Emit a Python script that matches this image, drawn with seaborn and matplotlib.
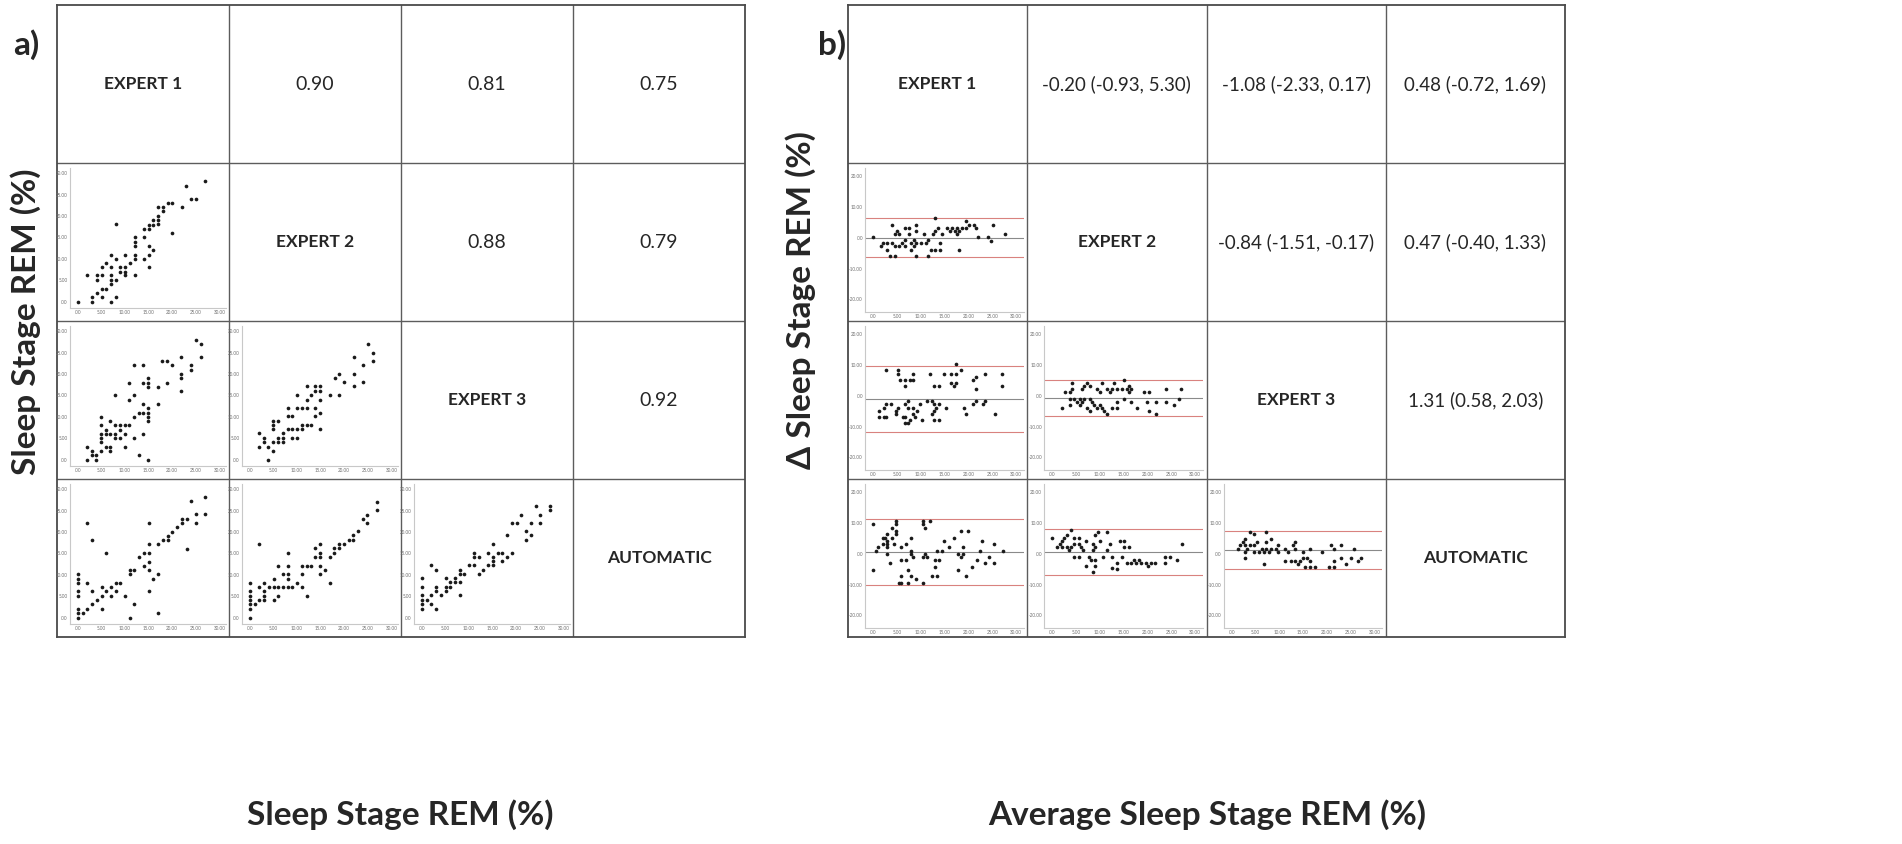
import matplotlib
matplotlib.use("Agg")
import matplotlib.pyplot as plt
import seaborn as sns

sns.set_style("white")
plt.rcParams['font.family'] = ['Lato', 'DejaVu Sans']

raters = ['EXPERT 1', 'EXPERT 2', 'EXPERT 3', 'AUTOMATIC']

# correlation coefficients (upper triangle, panel a)
corr_vals = {(0, 1): '0.90', (0, 2): '0.81', (0, 3): '0.75',
             (1, 2): '0.88', (1, 3): '0.79',
             (2, 3): '0.92'}

# bias (limits) text (upper triangle, panel b)
bias_vals = {(0, 1): '-0.20 (-0.93, 5.30)', (0, 2): '-1.08 (-2.33, 0.17)', (0, 3): '0.48 (-0.72, 1.69)',
             (1, 2): '-0.84 (-1.51, -0.17)', (1, 3): '0.47 (-0.40, 1.33)',
             (2, 3): '1.31 (0.58, 2.03)'}

tick_vals = [0, 5, 10, 15, 20, 25, 30]
tick_labels = ['.00', '5.00', '10.00', '15.00', '20.00', '25.00', '30.00']
ba_tick_vals = [-20, -10, 0, 10, 20]
ba_tick_labels = ['-20.00', '-10.00', '.00', '10.00', '20.00']

# ---- scatter panels (row, col) ----
sc10_x = [0, 2, 3, 3, 4, 4, 4, 5, 5, 5, 5, 6, 6, 7, 7, 7, 7, 7, 7, 8, 8, 8, 8, 9, 9, 10, 10, 10, 10, 11,
          12, 12, 12, 12, 12, 12, 14, 14, 14, 15, 15, 15, 15, 15, 16, 16, 16, 17, 17, 17, 17, 18, 18,
          19, 20, 20, 22, 23, 24, 25, 27]
sc10_y = [0, 6.1, 1.1, 0, 6.1, 5.0, 2.1, 8.1, 6.1, 3.0, 1.0, 9.0, 3.0, 11.0, 8.1, 6.1, 5.0, 4.1, 0, 18.1, 10.0,
          5.0, 1.0, 8.1, 7.0, 11.0, 8.1, 7.0, 6.1, 9.0, 15.0, 14.0, 13.0, 11.0, 10.0, 6.1, 17.0, 15.0, 10.0,
          18.0, 17.0, 13.0, 11.0, 8.0, 19.0, 18.0, 12.0, 22.1, 20.0, 19.0, 18.1, 22.1, 21.1, 23.1, 23.1, 16.1,
          22.1, 27.1, 24.1, 24.1, 28.1]

sc20_x = [1.9, 1.9, 2.9, 2.9, 3.9, 3.9, 4.9, 4.9, 4.9, 4.9, 4.9, 4.9, 5.9, 5.9, 5.9, 6.9, 6.9, 6.9, 6.9,
          7.9, 7.9, 7.9, 7.9, 8.9, 8.9, 8.9, 9.9, 9.9, 9.9, 10.9, 10.9, 10.9, 11.9, 11.9, 11.9, 11.9, 12.9,
          12.9, 13.9, 13.9, 13.9, 13.9, 13.9, 14.9, 14.9, 14.9, 14.9, 14.9, 14.9, 14.9, 14.9, 16.9, 16.9,
          17.9, 18.9, 18.9, 19.9, 21.9, 21.9, 21.9, 21.9, 23.9, 23.9, 25.0, 26.0, 26.0]
sc20_y = [3.0, 0, 2.0, 1.0, 1.0, 0, 10.0, 8.0, 6.0, 5.0, 4.0, 2.0, 7.0, 6.0, 3.0, 9.0, 6.0, 3.0, 2.0,
          15.1, 8.0, 6.0, 5.0, 8.0, 7.0, 5.0, 8.0, 6.0, 3.0, 18.0, 14.0, 8.0, 22.1, 15.1, 10.0, 5.0, 11.0,
          1.0, 22.1, 18.0, 13.1, 11.0, 6.0, 19.1, 18.0, 17.0, 12.1, 11.0, 10.0, 9.0, 0, 17.0, 13.1,
          23.0, 23.0, 18.0, 22.1, 24.0, 20.1, 19.1, 16.0, 22.1, 21.0, 28.0, 27.0, 24.0]

sc21_x = [1.9, 1.9, 2.9, 2.9, 3.9, 3.9, 4.9, 4.9, 4.9, 4.9, 4.9, 6.0, 6.0, 6.0, 7.0, 7.0, 7.0, 8.0, 8.0,
          8.0, 8.9, 8.9, 8.9, 9.9, 9.9, 9.9, 9.9, 11.0, 11.0, 11.0, 12.0, 12.0, 12.0, 12.0, 13.0, 13.0,
          13.9, 13.9, 13.9, 13.9, 14.9, 14.9, 14.9, 14.9, 14.9, 17.0, 18.0, 18.9, 18.9, 20.0, 22.0, 22.0,
          22.0, 24.0, 24.0, 25.0, 26.0, 26.0]
sc21_y = [6.1, 3.0, 5.1, 4.0, 3.0, 0, 9.0, 8.1, 7.1, 4.0, 2.1, 9.0, 5.1, 4.0, 6.1, 5.1, 4.0, 12.1, 10.1,
          7.1, 10.1, 7.1, 5.1, 15.1, 12.1, 7.1, 5.1, 12.1, 8.1, 7.1, 17.1, 14.0, 12.1, 8.1, 15.1, 8.1,
          17.1, 16.0, 12.1, 10.1, 17.1, 16.0, 14.0, 11.0, 7.1, 15.1, 19.0, 20.0, 15.1, 18.1, 24.0, 20.0,
          17.1, 22.1, 18.1, 27.0, 25.0, 23.0]

sc30_x = [0, 0, 0, 0, 0, 0, 0, 0, 1.0, 2.0, 2.0, 2.0, 3.0, 3.0, 3.0, 4.0, 5.0, 5.0, 5.0, 6.0, 6.0, 7.0,
          7.0, 8.0, 8.0, 9.0, 10.0, 11.0, 11.0, 11.0, 11.9, 11.9, 13.0, 14.0, 14.0, 15.0, 15.0, 15.0, 15.0,
          15.0, 15.0, 16.0, 17.0, 17.0, 17.0, 18.0, 19.0, 19.0, 20.0, 21.0, 22.0, 22.0, 23.1, 23.1, 24.0,
          25.1, 25.1, 27.0, 27.0]
sc30_y = [10.1, 9.1, 8.1, 6.2, 5.1, 2.1, 1.1, 0, 1.1, 22.1, 8.1, 2.1, 18.1, 6.2, 3.1, 4.1, 7.1, 5.1, 2.1,
          15.1, 6.2, 7.1, 5.1, 8.1, 6.2, 8.1, 5.1, 11.1, 10.1, 0, 11.1, 3.1, 14.1, 15.1, 12.1, 22.1, 17.1,
          15.1, 13.1, 11.1, 6.2, 9.1, 17.1, 10.1, 1.1, 18.1, 19.1, 18.1, 20.1, 21.1, 23.1, 22.1, 23.1, 16.1,
          27.2, 24.2, 22.1, 28.2, 24.2]

sc31_x = [0, 0, 0, 0, 0, 0, 0, 1.0, 2.0, 2.0, 2.0, 2.9, 2.9, 2.9, 2.9, 4.0, 5.0, 5.0, 5.0, 6.0, 6.0, 6.0,
          7.0, 7.0, 8.0, 8.0, 8.0, 8.0, 8.0, 9.0, 10.0, 11.0, 11.0, 11.0, 12.0, 12.0, 13.0, 13.9, 13.9,
          14.9, 14.9, 14.9, 14.9, 14.9, 15.9, 17.0, 17.0, 17.9, 17.9, 18.9, 18.9, 19.9, 21.0, 21.9, 21.9,
          22.9, 23.9, 24.9, 24.9, 26.9, 26.9]
sc31_y = [8.1, 6.1, 5.1, 4.1, 3.1, 2.0, 0, 3.1, 17.1, 7.1, 4.1, 8.1, 6.1, 5.1, 4.1, 7.1, 9.1, 7.1, 4.1,
          12.1, 7.1, 5.1, 10.1, 7.1, 15.2, 12.1, 10.1, 9.1, 7.1, 7.1, 8.1, 12.1, 10.1, 7.1, 12.1, 5.1,
          12.1, 16.2, 14.1, 17.1, 15.2, 14.1, 12.1, 10.1, 11.1, 14.1, 8.1, 16.2, 15.2, 17.1, 16.2, 17.1,
          18.2, 19.2, 18.2, 20.2, 23.1, 24.1, 22.2, 27.1, 25.2]

sc32_x = [0, 0, 0, 0, 0, 0, 1.0, 2.0, 2.0, 2.0, 3.0, 3.0, 3.0, 3.0, 4.0, 5.0, 5.0, 5.0, 6.0, 6.0, 7.0,
          7.0, 8.0, 8.0, 8.0, 8.0, 9.0, 10.0, 11.0, 11.0, 11.0, 12.0, 12.0, 13.0, 14.0, 14.0, 15.1, 15.1,
          15.1, 15.1, 16.1, 17.0, 17.0, 18.1, 18.1, 19.1, 19.1, 20.1, 21.1, 22.1, 22.1, 23.1, 23.1, 24.1,
          25.1, 25.1, 27.1, 27.1]
sc32_y = [9.2, 7.1, 5.2, 4.1, 3.2, 2.1, 4.1, 12.2, 5.2, 3.2, 11.2, 7.1, 6.1, 2.1, 5.2, 9.2, 7.1, 6.1,
          8.2, 7.1, 9.2, 8.2, 11.2, 10.2, 8.2, 5.2, 10.2, 12.2, 15.2, 14.2, 12.2, 14.2, 10.2, 11.2, 15.2,
          12.2, 17.2, 14.2, 13.2, 12.2, 15.2, 15.2, 13.2, 19.2, 14.2, 22.1, 15.2, 22.1, 24.1, 20.2, 18.2,
          22.1, 19.2, 26.1, 24.1, 22.1, 26.1, 25.1]

# ---- Bland-Altman panels (row, col): average on x, difference on y ----
ba10_x = [0, 1.55, 2.1, 3.0, 3.0, 3.6, 4.0, 4.0, 4.5, 4.5, 4.5, 5.1, 5.5, 5.5, 6.0, 6.6, 6.6, 6.6, 7.6,
          7.6, 8.0, 8.0, 8.6, 8.6, 9.1, 9.1, 9.1, 9.1, 10.1, 10.6, 11.1, 11.6, 11.6, 12.1, 12.6, 13.0,
          13.0, 13.0, 13.6, 14.1, 14.1, 14.5, 15.6, 16.1, 16.6, 17.1, 17.6, 17.6, 18.1, 18.1, 18.6, 19.6,
          19.6, 20.1, 21.1, 21.6, 22.1, 24.1, 24.7, 25.1, 27.6]
ba10_y = [0.2, -2.8, -1.8, -1.8, -3.9, -5.9, 4.3, -1.8, 1.2, -2.8, -5.9, 2.2, 1.2, -2.8, -1.8, 3.3, -0.8,
          -2.8, 3.3, 1.2, -1.8, -3.9, -0.8, -2.8, 4.3, 2.2, -1.8, -5.9, -1.8, 1.2, -1.8, -0.8, -5.9, -3.9,
          1.2, 6.4, 2.2, -3.9, 3.3, -1.8, -3.9, 1.2, 3.3, 2.2, 3.3, 2.2, 3.3, 1.2, 2.2, -3.9, 3.3, 5.3,
          3.3, 4.3, 4.3, 3.3, 0.2, 0.2, -0.9, 4.3, 1.2]

ba20_x = [1.2, 1.2, 2.2, 2.2, 2.7, 2.7, 2.7, 3.7, 4.7, 4.7, 5.2, 5.2, 5.2, 5.7, 6.2, 6.7, 6.7, 6.7, 6.7,
          6.7, 7.3, 7.3, 7.3, 7.8, 7.8, 8.3, 8.3, 8.3, 8.3, 8.8, 9.2, 9.8, 10.3, 11.3, 11.9, 12.3, 12.3,
          12.8, 12.8, 12.8, 12.8, 13.3, 13.8, 13.8, 13.8, 14.9, 15.3, 16.4, 16.4, 16.9, 17.4, 17.4, 17.4,
          18.4, 19.0, 19.5, 21.0, 21.0, 21.5, 21.5, 21.5, 23.0, 23.5, 23.5, 25.6, 27.1, 27.1]
ba20_y = [-4.8, -6.8, -3.8, -6.8, 8.2, -2.8, -6.8, -2.8, -4.8, -5.8, 8.2, 7.2, -3.8, 5.2, -6.8, 5.2, 3.2,
          -2.8, -6.8, -8.8, -1.8, -3.8, -8.8, 5.2, -7.8, 7.2, 5.2, -3.8, -5.8, -6.8, -4.8, -2.8, -7.8, -1.8,
          7.2, -1.8, -5.8, 3.2, -2.8, -4.8, -7.8, -3.8, 3.2, -2.8, -7.8, 7.2, -3.8, 7.2, 4.2, 3.2, 10.2,
          7.2, 4.2, 8.2, -3.8, -5.8, -2.8, 5.2, 6.2, 2.2, -1.8, -2.8, 7.2, -1.8, -5.8, 7.2, 3.2]

ba21_x = [2.0, 2.6, 3.6, 3.6, 3.6, 4.1, 4.1, 4.6, 5.1, 5.7, 5.7, 6.2, 6.2, 6.7, 6.7, 7.3, 7.3, 7.8, 7.8,
          7.8, 8.3, 8.8, 9.4, 9.4, 9.9, 9.9, 10.4, 10.4, 10.9, 11.5, 11.5, 12.0, 12.5, 12.5, 13.0, 13.5,
          13.5, 13.5, 14.6, 15.1, 15.1, 15.6, 16.1, 16.1, 16.6, 16.6, 17.7, 19.2, 19.8, 20.3, 20.3, 21.8,
          21.8, 23.9, 23.9, 25.5, 26.5, 27.1]
ba21_y = [-3.9, 1.1, 1.1, -0.9, -2.9, 4.1, 2.1, -0.9, -1.9, -0.9, -2.9, 2.1, -1.9, 3.1, -0.9, 4.1, -3.9,
          3.1, -0.9, -5.0, -1.9, -2.9, 2.1, -3.9, 1.1, -2.9, 4.1, -3.9, -5.0, -6.0, 2.1, 1.1, 2.1, -3.9,
          4.1, 2.1, -1.9, -3.9, 2.1, 5.1, -0.9, 2.1, 3.1, 1.1, 2.1, -1.9, -3.9, 1.1, -1.9, 1.1, -5.0, -1.9,
          -6.0, 2.1, -1.9, -2.9, -0.9, 2.1]

ba30_x = [0, 0, 0.5, 1.0, 2.0, 2.0, 2.5, 3.0, 3.0, 3.0, 3.0, 3.0, 3.5, 4.0, 4.0, 4.4, 4.9, 4.9, 4.9, 4.9,
          5.4, 5.9, 5.9, 5.9, 5.9, 6.9, 6.9, 7.4, 7.4, 7.9, 7.9, 7.9, 7.9, 8.4, 8.9, 10.4, 10.4, 10.4, 10.4,
          10.9, 10.9, 11.4, 11.9, 12.4, 12.9, 12.9, 13.4, 13.4, 13.9, 14.4, 14.9, 15.9, 16.9, 17.9, 17.9,
          18.4, 18.4, 18.9, 18.9, 19.4, 19.9, 20.8, 21.9, 22.4, 22.9, 23.4, 24.4, 25.4, 25.4, 27.3]
ba30_y = [9.5, -5.1, 1.0, 2.1, 5.2, 3.1, 5.2, 6.3, 4.2, 3.1, 2.1, 0, -3.1, 8.4, 5.2, 3.1, 10.5, 9.5, 7.4,
          6.3, -9.4, 2.1, -2.1, -7.3, -9.4, 3.1, -2.1, -5.1, -9.4, 5.2, 1.0, 0, -7.3, -1.0, -8.3, 10.5, 9.5,
          -1.0, -9.4, 8.4, 0, -1.0, 10.5, -7.3, -2.1, -4.2, 1.0, -7.3, -2.1, 1.0, 4.2, 2.1, 5.2, 0, -5.1,
          7.4, -1.0, 2.1, 0, -7.3, 7.4, -4.2, -2.1, 1.0, 4.2, -3.1, -1.0, 3.1, -3.1, 1.0]

ba31_x = [0, 1.0, 1.5, 2.0, 2.0, 2.5, 3.0, 3.0, 3.5, 4.0, 4.0, 4.5, 4.5, 4.5, 5.6, 5.6, 5.6, 6.0, 6.5,
          7.1, 7.1, 7.6, 8.1, 8.5, 8.5, 8.5, 9.0, 9.0, 9.0, 9.0, 9.5, 10.1, 10.6, 11.5, 11.5, 12.1, 12.6,
          12.6, 13.6, 13.6, 14.1, 14.6, 15.1, 15.1, 15.6, 16.1, 16.6, 17.1, 17.6, 18.1, 18.6, 19.6, 20.1,
          20.6, 21.6, 23.6, 23.6, 24.7, 26.2, 27.2]
ba31_y = [5.2, 2.1, 3.1, 4.2, 2.1, 5.2, 6.2, 2.1, 1.1, 7.7, 2.1, 5.2, 3.1, -0.9, 5.2, 3.1, -0.9, 2.1, 1.1,
          4.2, -3.9, -0.9, -2.0, 3.1, 1.1, -6.0, 6.2, 2.1, -2.0, -3.9, 7.2, 4.2, -0.9, 7.2, 1.1, 3.1, -0.9,
          -4.5, -4.9, -3.0, 4.2, -0.9, 4.2, 2.1, -3.0, 2.1, -3.0, -2.0, -3.0, -2.0, -3.0, -3.0, -3.9, -3.0,
          -3.0, -0.9, -3.0, -0.9, -2.0, 3.1]

ba32_x = [1.3, 1.8, 2.3, 2.8, 2.8, 2.8, 2.8, 3.3, 3.8, 3.8, 4.8, 4.8, 4.8, 5.3, 5.8, 6.3, 6.8, 6.8, 7.3,
          7.3, 7.3, 7.8, 8.3, 8.3, 9.3, 9.8, 9.8, 11.3, 11.3, 11.9, 12.4, 12.9, 13.4, 13.4, 13.4, 13.9,
          14.4, 14.9, 14.9, 15.4, 15.9, 16.4, 16.4, 16.4, 17.4, 18.9, 20.4, 20.9, 21.4, 21.4, 21.4, 23.0,
          23.0, 24.0, 25.0, 25.6, 26.6, 27.1]
ba32_y = [1.7, 2.8, 3.8, 2.8, 4.9, 0.7, -1.3, 1.7, 7.0, 2.8, 6.4, 2.8, 0.7, 3.8, 0.7, 1.7, 0.7, -3.3, 7.0,
          3.8, 1.7, 0.7, 4.9, 1.7, 1.7, 2.8, 0.7, 1.7, -2.3, 0.7, -2.3, 2.8, 3.8, 1.7, -2.3, -3.3, -2.3,
          -1.3, 0.7, -4.3, -1.3, 1.7, -2.3, -4.3, -4.3, 0.7, -4.3, 2.8, 1.7, -2.3, -4.3, 2.8, -1.3, -3.3,
          -1.3, 1.7, -2.3, -1.3]

# mean difference and limits of agreement per BA panel
ba_mean = {(1, 0): 0.0, (2, 0): -0.9, (2, 1): -0.8, (3, 0): 0.5, (3, 1): 0.6, (3, 2): 1.1}
ba_upper = {(1, 0): 6.4, (2, 0): 9.8, (2, 1): 5.0, (3, 0): 11.2, (3, 1): 8.0, (3, 2): 7.4}
ba_lower = {(1, 0): -6.3, (2, 0): -11.6, (2, 1): -6.4, (3, 0): -10.2, (3, 1): -6.8, (3, 2): -5.0}

scatter_data = {(1, 0): (sc10_x, sc10_y), (2, 0): (sc20_x, sc20_y), (2, 1): (sc21_x, sc21_y),
                (3, 0): (sc30_x, sc30_y), (3, 1): (sc31_x, sc31_y), (3, 2): (sc32_x, sc32_y)}
ba_data = {(1, 0): (ba10_x, ba10_y), (2, 0): (ba20_x, ba20_y), (2, 1): (ba21_x, ba21_y),
           (3, 0): (ba30_x, ba30_y), (3, 1): (ba31_x, ba31_y), (3, 2): (ba32_x, ba32_y)}

W, H = 1902, 844
fig = plt.figure(figsize=(W / 100, H / 100), dpi=100)
fig.patch.set_facecolor('white')


def fig_box(left, top, right, bottom):
    return [left / W, 1 - bottom / H, (right - left) / W, (bottom - top) / H]


def draw_grid(x0, x1, y0, y1):
    ax = fig.add_axes(fig_box(x0, y0, x1, y1))
    ax.set_xlim(0, 4)
    ax.set_ylim(4, 0)
    ax.set_xticks([])
    ax.set_yticks([])
    for sp in ax.spines.values():
        sp.set_color('#4a4a4a')
        sp.set_linewidth(1.3)
    for k in (1, 2, 3):
        ax.axvline(k, color='#5c5c5c', lw=1.0)
        ax.axhline(k, color='#5c5c5c', lw=1.0)
    for i, name in enumerate(raters):
        ax.text(i + 0.5, i + 0.5, name, ha='center', va='center', fontsize=12.5, fontweight='bold')
    return ax


def small_axes(x0, y0, cw, ch, r, c, l, rr, t, b):
    cl = x0 + c * cw
    ct = y0 + r * ch
    ax = fig.add_axes(fig_box(cl + l * cw, ct + t * ch, cl + rr * cw, ct + b * ch))
    ax.set_facecolor('none')
    sns.despine(ax=ax)
    for sp in ('left', 'bottom'):
        ax.spines[sp].set_color('#c8c8c8')
        ax.spines[sp].set_linewidth(0.8)
    ax.tick_params(length=0, pad=1.5, labelsize=3.3, labelcolor='#707070')
    return ax


# ---------- panel a ----------
ax0, ax1, ay0, ay1 = 57, 745, 5, 637
cw_a, ch_a = (ax1 - ax0) / 4, (ay1 - ay0) / 4
grid_a = draw_grid(ax0, ax1, ay0, ay1)
for (r, c), s in corr_vals.items():
    grid_a.text(c + 0.5, r + 0.5, s, ha='center', va='center', fontsize=14)

for (r, c), (xs, ys) in scatter_data.items():
    ax = small_axes(ax0, ay0, cw_a, ch_a, r, c, 0.075, 0.98, 0.03, 0.92)
    sns.scatterplot(x=xs, y=ys, ax=ax, color='#1a1a1a', s=7, linewidth=0)
    ax.set_xlim(-1.7, 31.3)
    ax.set_ylim(-1.6, 31.3)
    ax.set_xticks(tick_vals, tick_labels)
    ax.set_yticks(tick_vals, tick_labels)

# ---------- panel b ----------
bx0, bx1, by0, by1 = 848, 1565, 5, 637
cw_b, ch_b = (bx1 - bx0) / 4, (by1 - by0) / 4
grid_b = draw_grid(bx0, bx1, by0, by1)
for (r, c), s in bias_vals.items():
    grid_b.text(c + 0.5, r + 0.5, s, ha='center', va='center', fontsize=13.5)

for (r, c), (xs, ys) in ba_data.items():
    ax = small_axes(bx0, by0, cw_b, ch_b, r, c, 0.095, 0.98, 0.03, 0.94)
    ax.axhline(ba_mean[(r, c)], color='#8a8a8a', lw=0.8, zorder=1)
    ax.axhline(ba_upper[(r, c)], color='#d9827f', lw=0.8, zorder=1)
    ax.axhline(ba_lower[(r, c)], color='#d9827f', lw=0.8, zorder=1)
    sns.scatterplot(x=xs, y=ys, ax=ax, color='#1a1a1a', s=7, linewidth=0, zorder=2)
    ax.set_xlim(-1.7, 31.6)
    ax.set_ylim(-23.9, 22.7)
    ax.set_xticks(tick_vals, tick_labels)
    ax.set_yticks(ba_tick_vals, ba_tick_labels)

# ---------- labels ----------
big = dict(fontsize=24, fontweight='bold', ha='center', va='center')
fig.text(26 / W, 1 - 45 / H, 'a)', **big)
fig.text(832 / W, 1 - 45 / H, 'b)', **big)
fig.text(26 / W, 1 - 322 / H, 'Sleep Stage REM (%)', rotation=90, **big)
fig.text(801 / W, 1 - 300 / H, 'Δ Sleep Stage REM (%)', rotation=90, **big)
fig.text(400 / W, 1 - 815 / H, 'Sleep Stage REM (%)', **big)
fig.text(1207 / W, 1 - 815 / H, 'Average Sleep Stage REM (%)', **big)

fig.savefig('out.png', dpi=100, facecolor='white')
